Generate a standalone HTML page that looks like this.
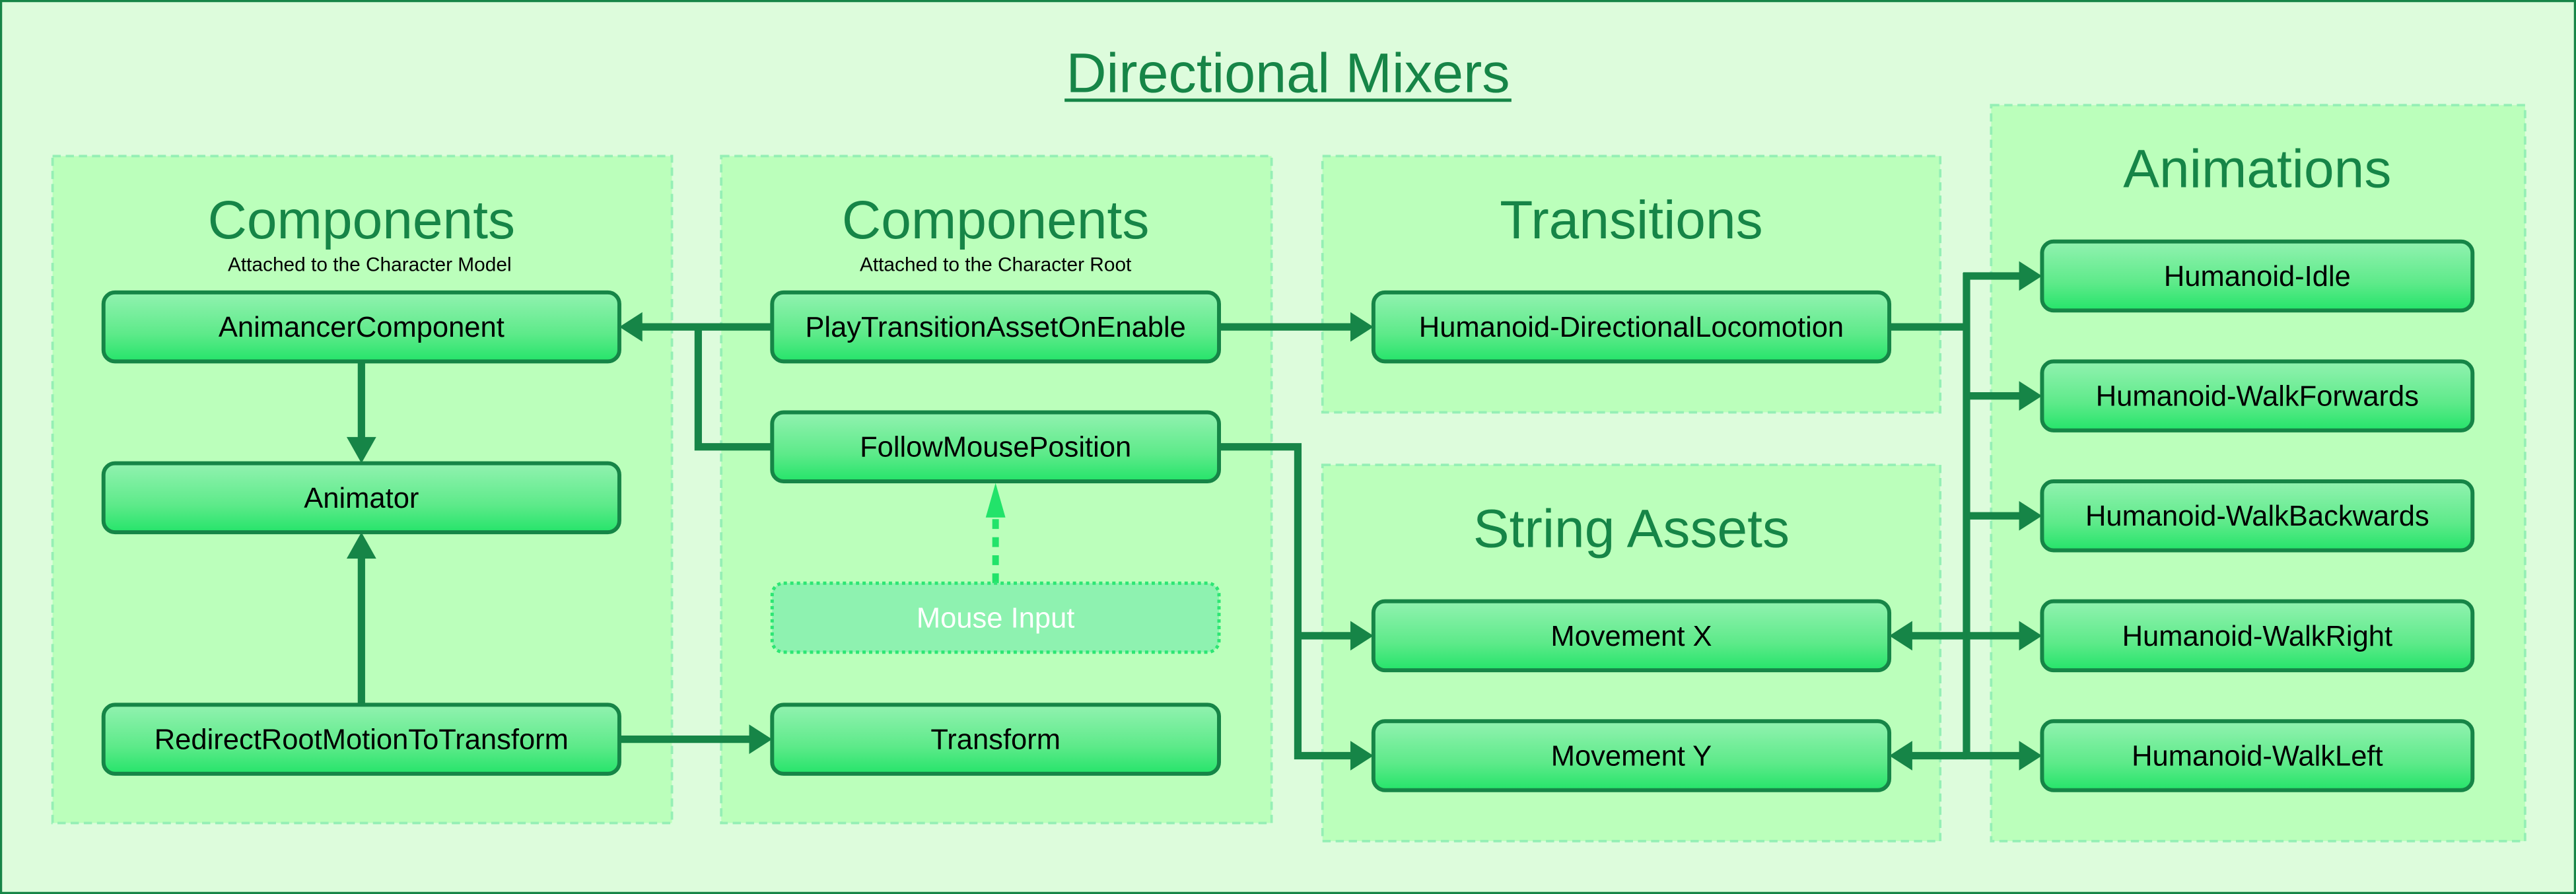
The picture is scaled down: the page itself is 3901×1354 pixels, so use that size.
<!DOCTYPE html>
<html><head><meta charset="utf-8"><style>
html,body{margin:0;padding:0;background:#ddfcdc;}
svg{display:block;}
text{font-family:"Liberation Sans Narrow","Liberation Sans",sans-serif;}
</style></head><body>
<svg width="3901" height="1354" viewBox="0 0 1568 544.2" preserveAspectRatio="none" xmlns="http://www.w3.org/2000/svg">
<defs>
<linearGradient id="g" x1="0" y1="0" x2="0" y2="1">
<stop offset="0" stop-color="#92f2b0"/><stop offset="0.6" stop-color="#5eea8a"/><stop offset="1" stop-color="#25e46a"/>
</linearGradient>
</defs>
<rect x="0.6" y="0.6" width="1566.8" height="543" fill="#ddfcdc" stroke="#168547" stroke-width="1.4"/>
<text x="784" y="56" font-size="34" fill="#168547" text-anchor="middle" font-family="Liberation Sans Narrow, Liberation Sans, sans-serif">Directional Mixers</text>
<rect x="648" y="60" width="272" height="2" fill="#168547"/>

<g fill="#bbffbb" stroke="#95efb5" stroke-width="1.5" stroke-dasharray="5,3">
<rect x="32" y="95" width="377" height="406"/>
<rect x="439" y="95" width="335" height="406"/>
<rect x="805" y="95" width="376" height="156"/>
<rect x="805" y="283" width="376" height="229"/>
<rect x="1212" y="64" width="325" height="448"/>
</g>

<g fill="#168547" text-anchor="middle" font-size="33">
<text x="220" y="145">Components</text>
<text x="606" y="145">Components</text>
<text x="993" y="145">Transitions</text>
<text x="993" y="333">String Assets</text>
<text x="1374" y="114">Animations</text>
</g>
<g fill="#000" text-anchor="middle" font-size="12">
<text x="225" y="165">Attached to the Character Model</text>
<text x="606" y="165">Attached to the Character Root</text>
</g>

<!-- connectors -->
<g stroke="#168547" stroke-width="4.5" fill="none">
<path d="M470 199 H388"/>
<path d="M425 199 V272 H470"/>
<path d="M220 220 V270"/>
<path d="M220 429 V336"/>
<path d="M377 450 H458"/>
<path d="M742 199 H824"/>
<path d="M742 272 H790 V460 H824"/>
<path d="M790 387 H824"/>
<path d="M1150 199 H1197"/>
<path d="M1197 166 V462"/>
<path d="M1195 168 H1231 M1195 241 H1231 M1195 314 H1231 M1195 387 H1231 M1195 460 H1231"/>
<path d="M1162 387 H1197 M1162 460 H1197"/>
</g>
<g fill="#168547">
<polygon points="377,199 391,190 391,208"/>
<polygon points="220,282 211,266 229,266"/>
<polygon points="220,324 211,340 229,340"/>
<polygon points="470,450 456,441 456,459"/>
<polygon points="836,199 822,190 822,208"/>
<polygon points="836,387 822,378 822,396"/>
<polygon points="836,460 822,451 822,469"/>
<polygon points="1150,387 1164,378 1164,396"/>
<polygon points="1150,460 1164,451 1164,469"/>
<polygon points="1243,168 1229,159 1229,177"/>
<polygon points="1243,241 1229,232 1229,250"/>
<polygon points="1243,314 1229,305 1229,323"/>
<polygon points="1243,387 1229,378 1229,396"/>
<polygon points="1243,460 1229,451 1229,469"/>
</g>
<path d="M606 355 V308" stroke="#22e36a" stroke-width="4" stroke-dasharray="6,5" fill="none"/>
<polygon points="606,294 600,315 612,315" fill="#22e36a"/>

<!-- nodes -->
<g fill="url(#g)" stroke="#168547" stroke-width="2.4">
<rect x="63" y="178" width="314" height="42" rx="7"/>
<rect x="63" y="282" width="314" height="42" rx="7"/>
<rect x="63" y="429" width="314" height="42" rx="7"/>
<rect x="470" y="178" width="272" height="42" rx="7"/>
<rect x="470" y="251" width="272" height="42" rx="7"/>
<rect x="470" y="429" width="272" height="42" rx="7"/>
<rect x="836" y="178" width="314" height="42" rx="7"/>
<rect x="836" y="366" width="314" height="42" rx="7"/>
<rect x="836" y="439" width="314" height="42" rx="7"/>
<rect x="1243" y="147" width="262" height="42" rx="7"/>
<rect x="1243" y="220" width="262" height="42" rx="7"/>
<rect x="1243" y="293" width="262" height="42" rx="7"/>
<rect x="1243" y="366" width="262" height="42" rx="7"/>
<rect x="1243" y="439" width="262" height="42" rx="7"/>
</g>
<rect x="470" y="355" width="272" height="42" rx="7" fill="#8ef2b0" stroke="#2de674" stroke-width="2" stroke-dasharray="2,2"/>

<g fill="#000" text-anchor="middle" font-size="17.5">
<text x="220" y="205">AnimancerComponent</text>
<text x="220" y="309">Animator</text>
<text x="220" y="456">RedirectRootMotionToTransform</text>
<text x="606" y="205">PlayTransitionAssetOnEnable</text>
<text x="606" y="278">FollowMousePosition</text>
<text x="606" y="456">Transform</text>
<text x="993" y="205">Humanoid-DirectionalLocomotion</text>
<text x="993" y="393">Movement X</text>
<text x="993" y="466">Movement Y</text>
<text x="1374" y="174">Humanoid-Idle</text>
<text x="1374" y="247">Humanoid-WalkForwards</text>
<text x="1374" y="320">Humanoid-WalkBackwards</text>
<text x="1374" y="393">Humanoid-WalkRight</text>
<text x="1374" y="466">Humanoid-WalkLeft</text>
</g>
<text x="606" y="382" fill="#fff" text-anchor="middle" font-size="17.5">Mouse Input</text>
</svg>
</body></html>
